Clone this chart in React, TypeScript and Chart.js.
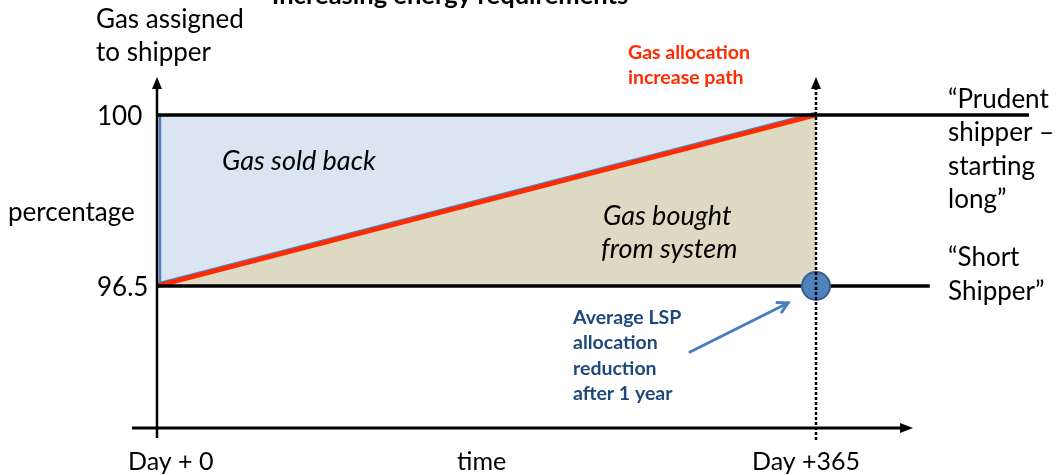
import React, { useEffect, useRef } from "react";
import { Chart, registerables } from "chart.js";

Chart.register(...registerables);

// ---- data ----
const pathDays = [0, 365];
const allocationPath = [96.5, 100];
const prudentLevel = 100;
const shortLevel = 96.5;
const prudentLineEndDay = 483;
const shortLineEndDay = 428;
const lspPointDay = 365;
const lspPointValue = 96.5;
const yTickValues = [100, 96.5];
const yTickLabels = ["100", "96.5"];
const xTickValues = [0, 365];
const xTickLabels = ["Day + 0", "Day +365"];

const FONT = "Lato, 'Open Sans', sans-serif";

const decorPlugin = {
  id: "decor",
  beforeDatasetsDraw(chart: any) {
    const { ctx, scales } = chart;
    const xs = scales.x, ys = scales.y;
    ctx.save();
    ctx.strokeStyle = "#4F81BD";
    ctx.lineWidth = 2;
    ctx.beginPath();
    ctx.moveTo(xs.getPixelForValue(pathDays[0]), ys.getPixelForValue(allocationPath[0]) - 2.5);
    ctx.lineTo(xs.getPixelForValue(pathDays[1]), ys.getPixelForValue(allocationPath[1]) - 2.5);
    ctx.stroke();
    ctx.lineWidth = 2.5;
    ctx.beginPath();
    const x0 = xs.getPixelForValue(0) + 3;
    ctx.moveTo(x0, ys.getPixelForValue(shortLevel));
    ctx.lineTo(x0, ys.getPixelForValue(prudentLevel));
    ctx.stroke();
    ctx.restore();
  },
  afterDatasetsDraw(chart: any) {
    const { ctx, scales } = chart;
    const xs = scales.x, ys = scales.y;
    const xAxisY = 428;
    const topY = 77;
    const ox = xs.getPixelForValue(0);
    const dx = xs.getPixelForValue(365);
    ctx.save();
    ctx.fillStyle = "#000";
    ctx.strokeStyle = "#000";
    // y axis
    ctx.lineWidth = 2.5;
    ctx.beginPath();
    ctx.moveTo(ox, 438);
    ctx.lineTo(ox, topY + 8);
    ctx.stroke();
    ctx.beginPath();
    ctx.moveTo(ox, topY);
    ctx.lineTo(ox - 5, topY + 12);
    ctx.lineTo(ox + 5, topY + 12);
    ctx.closePath();
    ctx.fill();
    // x axis
    ctx.lineWidth = 3;
    ctx.beginPath();
    ctx.moveTo(132, xAxisY);
    ctx.lineTo(904, xAxisY);
    ctx.stroke();
    ctx.beginPath();
    ctx.moveTo(913, xAxisY);
    ctx.lineTo(900, xAxisY - 5);
    ctx.lineTo(900, xAxisY + 5);
    ctx.closePath();
    ctx.fill();
    // dotted vertical at day 365
    ctx.lineWidth = 2.5;
    ctx.setLineDash([3, 2]);
    ctx.beginPath();
    ctx.moveTo(dx, 440);
    ctx.lineTo(dx, topY + 10);
    ctx.stroke();
    ctx.setLineDash([]);
    ctx.beginPath();
    ctx.moveTo(dx, topY);
    ctx.lineTo(dx - 5, topY + 12);
    ctx.lineTo(dx + 5, topY + 12);
    ctx.closePath();
    ctx.fill();

    // annotation arrow
    const ax0 = 690, ay0 = 352, ax1 = 788, ay1 = 303;
    ctx.strokeStyle = "#4A7EBB";
    ctx.lineWidth = 3;
    ctx.lineCap = "round";
    ctx.beginPath();
    ctx.moveTo(ax0, ay0);
    ctx.lineTo(ax1, ay1);
    ctx.stroke();
    const ang = Math.atan2(ay1 - ay0, ax1 - ax0);
    const hl = 11;
    ctx.beginPath();
    ctx.moveTo(ax1 - hl * Math.cos(ang - 0.5), ay1 - hl * Math.sin(ang - 0.5));
    ctx.lineTo(ax1, ay1);
    ctx.lineTo(ax1 - hl * Math.cos(ang + 0.5), ay1 - hl * Math.sin(ang + 0.5));
    ctx.stroke();

    // texts
    ctx.textBaseline = "middle";
    ctx.textAlign = "left";
    const text = (s: string, x: number, y: number, font: string, color = "#000") => {
      ctx.font = font;
      ctx.fillStyle = color;
      ctx.fillText(s, x, y);
    };
    const reg = `26px ${FONT}`;
    ctx.textAlign = "center";
    ctx.textBaseline = "alphabetic";
    text("Increasing energy requirements", 450, 4, `bold 25.5px ${FONT}`);
    ctx.textAlign = "left";
    ctx.textBaseline = "middle";

    text("Gas assigned", 96, 20, reg);
    text("to shipper", 96, 53, reg);
    text("percentage", 8, 213, reg);
    yTickValues.forEach((v, i) => text(yTickLabels[i], 97, ys.getPixelForValue(v) + 2, reg));
    xTickValues.forEach((v, i) => {
      const offs = i === 0 ? -29 : -64;
      text(xTickLabels[i], xs.getPixelForValue(v) + offs, 462, `25px ${FONT}`);
    });
    text("time", 457, 462, `25px ${FONT}`);

    const it = `italic 27px ${FONT}`;
    text("Gas sold back", 222, 161, it);
    text("Gas bought", 603, 216, it);
    text("from system", 601, 249, it);

    const red = `bold 19.5px ${FONT}`;
    text("Gas allocation", 628, 53, red, "#FF2A00");
    text("increase path", 628, 78, red, "#FF2A00");

    text("\u201CPrudent", 948, 100, reg);
    text("shipper \u2013", 948, 133, reg);
    text("starting", 948, 167, reg);
    text("long\u201D", 948, 200, reg);
    text("\u201CShort", 948, 258, reg);
    text("Shipper\u201D", 948, 292, reg);

    const blue = `bold 19.5px ${FONT}`;
    text("Average LSP", 573, 318, blue, "#1F497D");
    text("allocation", 573, 343, blue, "#1F497D");
    text("reduction", 573, 369, blue, "#1F497D");
    text("after 1 year", 573, 394, blue, "#1F497D");
    ctx.restore();
  },
};

export default function App() {
  const ref = useRef<HTMLCanvasElement | null>(null);
  useEffect(() => {
    if (!ref.current) return;
    const pts = (ys: number[]) => pathDays.map((d, i) => ({ x: d, y: ys[i] }));
    const chart = new Chart(ref.current, {
      type: "line",
      data: {
        datasets: [
          {
            label: "Average LSP allocation reduction",
            data: [{ x: lspPointDay, y: lspPointValue }],
            showLine: false,
            pointRadius: 14,
            pointBackgroundColor: "#4F81BD",
            pointBorderColor: "#385D8A",
            pointBorderWidth: 2,
          },
          {
            label: "Prudent shipper",
            data: [{ x: 0, y: prudentLevel }, { x: prudentLineEndDay, y: prudentLevel }],
            borderColor: "#000",
            borderWidth: 3.5,
            pointRadius: 0,
            fill: false,
          },
          {
            label: "Short shipper",
            data: [{ x: 0, y: shortLevel }, { x: shortLineEndDay, y: shortLevel }],
            borderColor: "#000",
            borderWidth: 3.5,
            pointRadius: 0,
            fill: false,
          },
          {
            label: "Gas allocation increase path",
            data: pts(allocationPath),
            borderColor: "#FF2A00",
            borderWidth: 4.5,
            pointRadius: 0,
            fill: { target: { value: shortLevel } },
            backgroundColor: "#DDD9C3",
          },
          {
            label: "Gas sold back",
            data: pts(allocationPath),
            borderWidth: 0,
            borderColor: "rgba(0,0,0,0)",
            pointRadius: 0,
            fill: { target: { value: prudentLevel } },
            backgroundColor: "#DBE5F1",
          },
        ],
      },
      options: {
        animation: false,
        responsive: true,
        maintainAspectRatio: false,
        layout: { padding: 0, autoPadding: false },
        scales: {
          x: { type: "linear", min: -86.96, max: 498.48, display: false },
          y: { type: "linear", min: 92.632, max: 102.354, display: false },
        },
        plugins: {
          legend: { display: false },
          tooltip: { enabled: false },
          filler: { drawTime: "beforeDatasetsDraw" },
        },
      } as any,
      plugins: [decorPlugin],
    });
    return () => chart.destroy();
  }, []);
  return (
    <div style={{ position: "fixed", left: 0, top: 0, width: 1057, height: 475, background: "#fff" }}>
      <canvas ref={ref} />
    </div>
  );
}
